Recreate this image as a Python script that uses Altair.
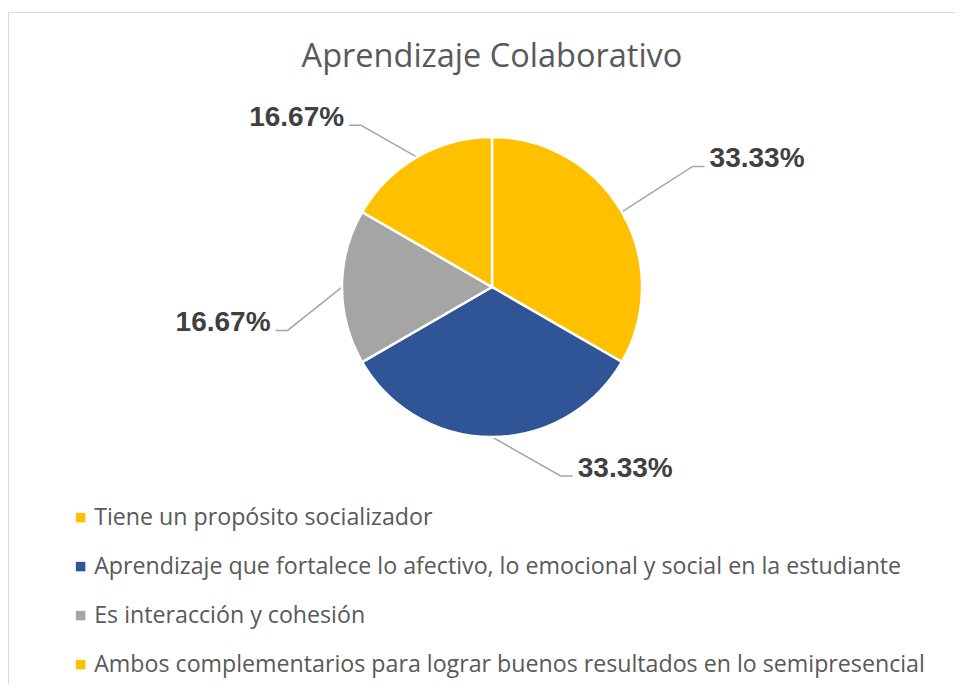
import math
import altair as alt
import pandas as pd

# ---- data ----
categories = [
    "Tiene un propósito socializador",
    "Aprendizaje que fortalece lo afectivo, lo emocional y social en la estudiante",
    "Es interacción y cohesión",
    "Ambos complementarios para lograr buenos resultados en lo semipresencial",
]
values = [33.33, 33.33, 16.67, 16.67]
label_texts = ["33.33%", "33.33%", "16.67%", "16.67%"]
colors = ["#FFC000", "#2F5597", "#A5A5A5", "#FFC000"]
chart_title = "Aprendizaje Colaborativo"

# ---- layout (page pixel coordinates) ----
W, H = 947, 676
CX, CY, R = 492, 287, 150
label_angle = [59, 160, 258, 321]      # where each data label sits (deg, clockwise from 12h)
label_radius = [234, 201, 209, 208]
ELBOW = 12
GAP = 5

xs = alt.Scale(domain=[8, 8 + W], range=[0, W], nice=False, zero=False)
ys = alt.Scale(domain=[8, 8 + H], range=[0, H], nice=False, zero=False)

pie_df = pd.DataFrame({"category": categories, "value": values, "idx": range(len(values))})

# leader lines and label positions derived from slice angles
total = sum(values)
cum = 0.0
line_rows, lab_rows = [], []
for i, v in enumerate(values):
    mid = (cum + v / 2) / total * 2 * math.pi
    cum += v
    sx, sy = CX + R * math.sin(mid), CY - R * math.cos(mid)
    la = math.radians(label_angle[i])
    ex, ey = CX + label_radius[i] * math.sin(la), CY - label_radius[i] * math.cos(la)
    side = 1 if ex >= CX else -1
    fx = ex + side * ELBOW
    line_rows += [
        {"id": i, "o": 0, "x": sx, "y": sy},
        {"id": i, "o": 1, "x": ex, "y": ey},
        {"id": i, "o": 2, "x": fx, "y": ey},
    ]
    lab_rows.append({"text": label_texts[i], "x": fx + side * GAP, "y": ey + 1,
                     "side": "r" if side > 0 else "l"})
lines_df = pd.DataFrame(line_rows)
labs_df = pd.DataFrame(lab_rows)

pie = alt.Chart(pie_df).mark_arc(radius=R, stroke="white", strokeWidth=2.5).encode(
    theta=alt.Theta("value:Q", stack=True),
    color=alt.Color(
        "category:N",
        scale=alt.Scale(domain=categories, range=colors),
        legend=alt.Legend(
            orient="none", legendX=61, legendY=498, title=None,
            symbolType="square", symbolSize=90, symbolStrokeWidth=0,
            labelFont="Open Sans", labelFontSize=23.2, labelColor="#595959",
            labelLimit=0, labelOffset=2, rowPadding=25, padding=0,
            direction="vertical",
        ),
    ),
    order=alt.Order("idx:Q"),
    x=alt.value(CX - 8),
    y=alt.value(CY - 8),
)

leaders = alt.Chart(lines_df).mark_line(color="#A6A6A6", strokeWidth=1.5).encode(
    x=alt.X("x:Q", scale=xs, axis=None),
    y=alt.Y("y:Q", scale=ys, axis=None),
    detail="id:N",
    order="o:Q",
)

lab_style = dict(font="Liberation Sans", fontSize=28, fontWeight="bold",
                 color="#404040", baseline="alphabetic")
labs_r = alt.Chart(labs_df).transform_filter(alt.datum.side == "r").mark_text(
    align="left", **lab_style).encode(
    x=alt.X("x:Q", scale=xs, axis=None), y=alt.Y("y:Q", scale=ys, axis=None), text="text:N")
labs_l = alt.Chart(labs_df).transform_filter(alt.datum.side == "l").mark_text(
    align="right", **lab_style).encode(
    x=alt.X("x:Q", scale=xs, axis=None), y=alt.Y("y:Q", scale=ys, axis=None), text="text:N")

title_df = pd.DataFrame({"text": [chart_title], "x": [492], "y": [67]})
title = alt.Chart(title_df).mark_text(
    font="Open Sans", fontSize=32.5, color="#595959", align="center", baseline="alphabetic"
).encode(x=alt.X("x:Q", scale=xs, axis=None), y=alt.Y("y:Q", scale=ys, axis=None), text="text:N")

border_df = pd.DataFrame({"x": [8.5, 8.5], "x2": [8.5, 980], "y": [12.5, 12.5], "y2": [700, 12.5]})
border = alt.Chart(border_df).mark_rule(color="#D9D9D9", strokeWidth=1.2).encode(
    x=alt.X("x:Q", scale=xs, axis=None), x2="x2:Q",
    y=alt.Y("y:Q", scale=ys, axis=None), y2="y2:Q",
)

chart = alt.layer(border, title, leaders, pie, labs_r, labs_l).resolve_scale(
    x="shared", y="shared"
).properties(
    width=W, height=H, autosize=alt.AutoSizeParams(type="none"), padding=0
).configure_view(stroke=None)

chart.save("out.html", embed_options={"renderer": "svg", "actions": False})
